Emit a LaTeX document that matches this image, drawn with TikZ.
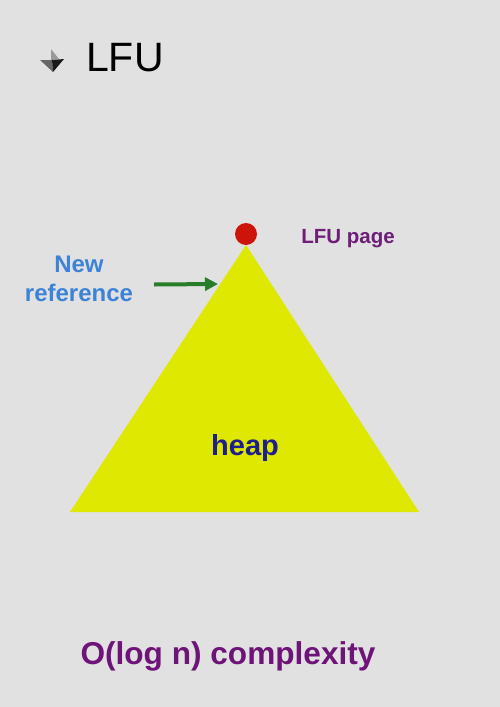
\documentclass[tikz,border=0pt]{standalone}
\usepackage{fontspec}
\setmainfont{Liberation Sans}
\usetikzlibrary{arrows.meta}
\definecolor{bg}{RGB}{225,225,225}
\definecolor{heapyellow}{RGB}{222,232,0}
\definecolor{dotred}{RGB}{205,20,10}
\definecolor{refblue}{RGB}{60,130,215}
\definecolor{arrowgreen}{RGB}{40,125,40}
\definecolor{pagepurple}{RGB}{110,30,120}
\definecolor{heapnavy}{RGB}{30,30,140}
\definecolor{cplxpurple}{RGB}{110,20,120}
\tikzset{
  lbl/.style={inner sep=0pt, font=\bfseries},
  refarrow/.style={draw=arrowgreen, line width=4pt, -{Triangle[length=13pt,width=13pt]}},
}
\begin{document}
\begin{tikzpicture}[x=1pt,y=-1pt]
  % page background
  \fill[bg] (0,0) rectangle (500,707);
  \useasboundingbox (0,0) rectangle (500,707);

  % bullet and title
  \fill[black!40] (51,49) -- (59,59) -- (51,60) -- cycle;
  \fill[black!60] (40,60) -- (52,60) -- (53,72) -- cycle;
  \fill[black!90] (52,60) -- (64,59) -- (53,72) -- cycle;
  \node[inner sep=0pt, font=\fontsize{41}{44}\selectfont, anchor=west] (title) at (86,58) {LFU};

  % heap triangle with the LFU page on top
  \coordinate (apex) at (246,245);
  \coordinate (bl) at (70,512);
  \coordinate (br) at (419,512);
  \fill[heapyellow] (apex) -- (br) -- (bl) -- cycle;
  \fill[dotred] (246,234) circle (11);
  \node[lbl, text=pagepurple, font=\bfseries\fontsize{20.5}{24}\selectfont] (page) at (348,239) {LFU page};
  \node[lbl, text=heapnavy, font=\bfseries\fontsize{29}{32}\selectfont] (heap) at (245,448) {heap};

  % new reference entering the heap
  \node[lbl, text=refblue, align=center, font=\bfseries\fontsize{24}{29}\selectfont] (newref) at (79,279) {New\\reference};
  \coordinate (arrowstart) at (154,284.5);
  \coordinate (arrowend) at (218,284);
  \draw[refarrow] (arrowstart) -- (arrowend);

  % complexity
  \node[lbl, text=cplxpurple, font=\bfseries\fontsize{31.6}{34}\selectfont] (cplx) at (228,656) {O(log n) complexity};
\end{tikzpicture}
\end{document}
